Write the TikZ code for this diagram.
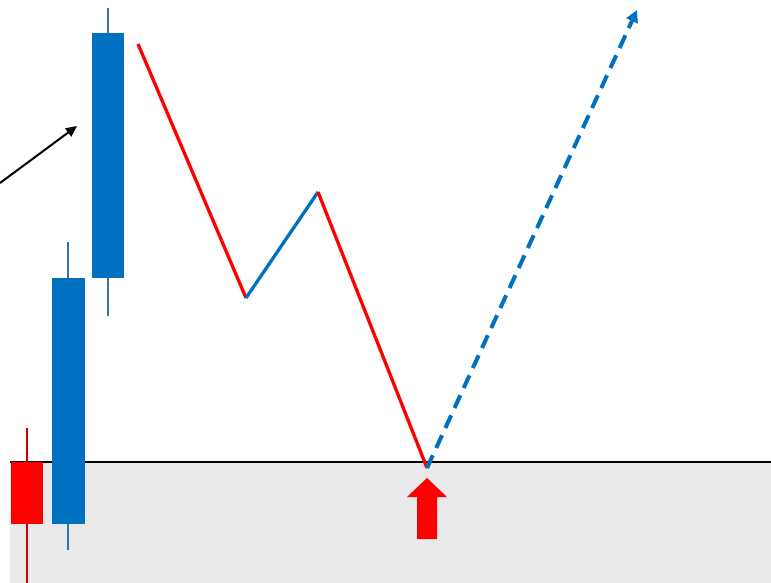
\documentclass[tikz,border=0pt]{standalone}
\usetikzlibrary{arrows.meta}
\definecolor{cblue}{HTML}{0070C0}
\definecolor{cred}{HTML}{FF0000}
\definecolor{cgray}{HTML}{E9E9E9}
\tikzset{
  wick/.style={line width=1.2pt},
  redseg/.style={cred, line width=3.3pt},
  blueseg/.style={cblue, line width=3.3pt},
}
\begin{document}
\begin{tikzpicture}[x=1pt,y=-1pt]
\useasboundingbox (0,0) rectangle (771,583);
% support zone
\fill[cgray] (10,462) rectangle (771,583);
\draw[line width=1.3pt] (10,462) -- (771,462);
% red candle
\draw[wick, cred!80!black] (27,428) -- (27,583);
\fill[cred] (11,462) rectangle (43,524);
% blue candle 1
\draw[wick, cblue!60!gray] (68,242) -- (68,550);
\fill[cblue] (52,278) rectangle (85,524);
% blue candle 2
\draw[wick, cblue!60!gray] (108,8) -- (108,316);
\fill[cblue] (92,33) rectangle (124,278);
% black arrow
\coordinate (a0) at (0,183);
\coordinate (a1) at (77,126);
\draw[line width=2pt, -{Triangle[length=11pt,width=10pt]}] (a0) -- (a1);
% zigzag
\coordinate (p0) at (138,44);
\coordinate (p1) at (246,298);
\coordinate (p2) at (318,192);
\coordinate (p3) at (427,468);
\coordinate (p4) at (637,10);
\draw[redseg] (p0) -- (p1);
\draw[blueseg] (p1) -- (p2);
\draw[redseg] (p2) -- (p3);
\draw[cblue, line width=4pt, dash pattern=on 14pt off 8pt, -{Triangle[length=12pt,width=12pt]}] (p3) -- (p4);
% red up arrow
\fill[cred] (427,478) -- (447,497) -- (437,497) -- (437,539) -- (417,539) -- (417,497) -- (407,497) -- cycle;
\end{tikzpicture}
\end{document}
